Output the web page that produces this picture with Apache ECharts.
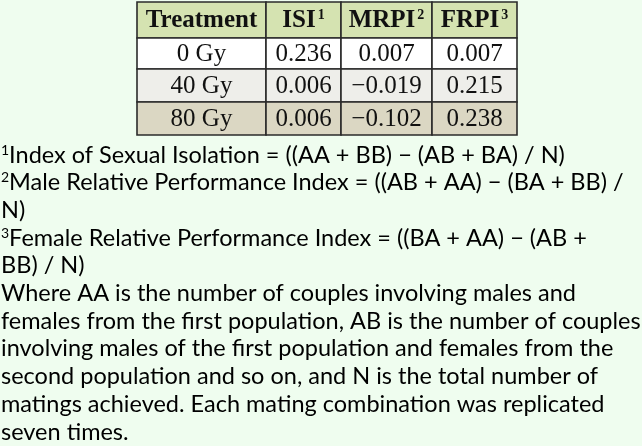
<!DOCTYPE html>
<html>
<head>
<meta charset="utf-8">
<script src="https://cdn.jsdelivr.net/npm/echarts@6/dist/echarts.min.js"></script>
<style>
html,body{margin:0;padding:0;background:#effdef;}
#chart{width:642px;height:446px;}
</style>
</head>
<body>
<div id="chart"></div>
<script>
// ---- data ----
const headers = ['Treatment', 'ISI', 'MRPI', 'FRPI'];
const headerNotes = ['', '1', '2', '3'];
const treatments = ['0 Gy', '40 Gy', '80 Gy'];
const isi = [0.236, 0.006, 0.006];
const mrpi = [0.007, -0.019, -0.102];
const frpi = [0.007, 0.215, 0.238];
const footnoteLines = [
  '{s|1}Index of Sexual Isolation = ((AA + BB) \u2212 (AB + BA) / N)',
  '{s|2}Male Relative Performance Index = ((AB + AA) \u2212 (BA + BB) /',
  'N)',
  '{s|3}Female Relative Performance Index = ((BA + AA) \u2212 (AB +',
  'BB) / N)',
  'Where AA is the number of couples involving males and',
  'females from the first population, AB is the number of couples',
  'involving males of the first population and females from the',
  'second population and so on, and N is the total number of',
  'matings achieved. Each mating combination was replicated',
  'seven times.'
];

// ---- layout (not data) ----
const colEdges = [0, 129, 204, 295, 380];
const rowEdges = [0, 36, 67, 100, 133];
const rowFills = ['#d5e3b1', '#ffffff', '#eeeeea', '#dbd7c3'];

function fmt(v) {
  const s = Math.abs(v).toFixed(3);
  return v < 0 ? '\u2212' + s : s;
}

const cells = [];
for (let c = 0; c < headers.length; c++) cells.push([c, 0, headers[c], headerNotes[c]]);
const cols = [treatments, isi.map(fmt), mrpi.map(fmt), frpi.map(fmt)];
for (let r = 0; r < treatments.length; r++) {
  for (let c = 0; c < cols.length; c++) cells.push([c, r + 1, cols[c][r], '']);
}

const chart = echarts.init(document.getElementById('chart'));

const graphics = footnoteLines.map((line, i) => ({
  type: 'text',
  x: 1,
  y: 155 + i * 27.7,
  style: {
    text: line,
    font: '23.5px Lato',
    fill: '#000',
    verticalAlign: 'middle',
    rich: {
      s: { fontSize: 14, fontFamily: 'Lato', fill: '#000', verticalAlign: 'top', padding: [0, 0, 8, 0] }
    }
  }
}));

chart.setOption({
  animation: false,
  backgroundColor: '#effdef',
  grid: { left: 137, right: 642 - 517, top: 2, bottom: 446 - 135 },
  xAxis: { type: 'value', min: 0, max: 380, show: false },
  yAxis: { type: 'value', min: 0, max: 133, inverse: true, show: false },
  graphic: graphics,
  series: [{
    type: 'custom',
    data: cells,
    renderItem: function (params, api) {
      const c = api.value(0), r = api.value(1);
      const item = cells[params.dataIndex];
      const p0 = api.coord([colEdges[c], rowEdges[r]]);
      const p1 = api.coord([colEdges[c + 1], rowEdges[r + 1]]);
      const isHead = r === 0;
      const txt = item[3] ? item[2] + '{s|' + item[3] + '}' : item[2];
      return {
        type: 'group',
        children: [{
          type: 'rect',
          shape: { x: p0[0], y: p0[1], width: p1[0] - p0[0], height: p1[1] - p0[1] },
          style: { fill: rowFills[r], stroke: '#2b2b2b', lineWidth: 1.6 }
        }, {
          type: 'text',
          x: (p0[0] + p1[0]) / 2,
          y: (p0[1] + p1[1]) / 2 + 1,
          style: {
            text: txt,
            align: 'center',
            verticalAlign: 'middle',
            font: (isHead ? 'bold ' : '') + '25px "Liberation Serif"',
            fill: '#111',
            rich: {
              s: { fontSize: 14, fontWeight: 'bold', fontFamily: 'Liberation Serif', fill: '#111', verticalAlign: 'top', padding: [0, 0, 10, 2] }
            }
          }
        }]
      };
    }
  }]
});
</script>
</body>
</html>
